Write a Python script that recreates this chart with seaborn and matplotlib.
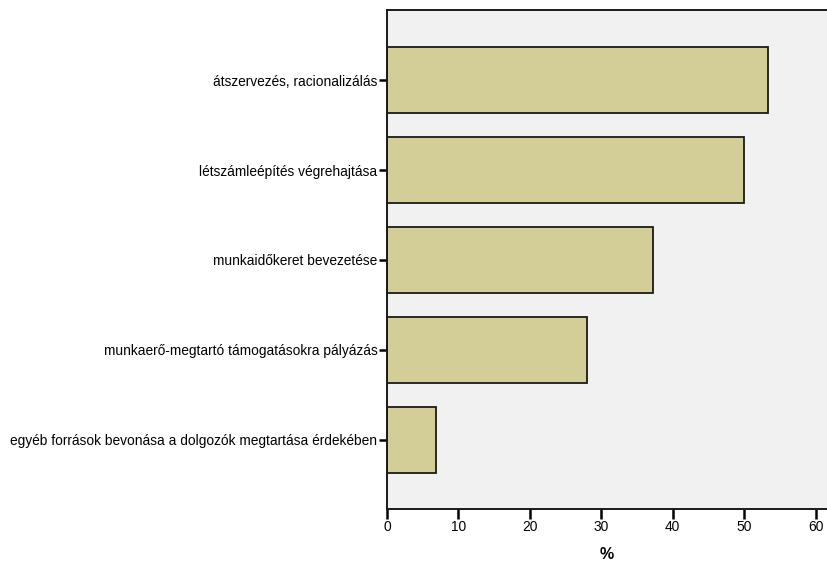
import numpy as np
import pandas as pd
import seaborn as sns
import matplotlib.pyplot as plt

# answer categories, top to bottom
categories = [
    "átszervezés, racionalizálás",
    "létszámleépítés végrehajtása",
    "munkaidőkeret bevezetése",
    "munkaerő-megtartó támogatásokra pályázás",
    "egyéb források bevonása a dolgozók megtartása érdekében",
]
percent = [53.4, 50.0, 37.3, 28.0, 6.8]
x_ticks = [0, 10, 20, 30, 40, 50, 60]

df = pd.DataFrame({"category": categories, "percent": percent})

sns.set_style("white")
plt.rcParams["font.family"] = ["Liberation Sans", "DejaVu Sans"]
plt.rcParams["text.color"] = "black"
plt.rcParams["axes.labelcolor"] = "black"

fig = plt.figure(figsize=(8.27, 5.62), dpi=100)
ax = fig.add_axes([387 / 827, 1 - 509 / 562, 440 / 827, 499 / 562])
ax.set_facecolor("#f0f1f0")

sns.barplot(data=df, x="percent", y="category", orient="h", color="#d3ce97",
            saturation=1, width=0.73, edgecolor="#1a1a1a", linewidth=1.3, ax=ax)

ax.set_xlim(0, 61.6)
ax.set_ylim(4.77, -0.78)
ax.set_xticks(x_ticks)
ax.set_xticklabels([str(t) for t in x_ticks])
ax.tick_params(axis="y", left=True, labelsize=9.9, length=6, width=1.8,
               direction="out", pad=1, colors="black")
ax.tick_params(axis="x", bottom=True, labelsize=9.9, length=7, width=1.8,
               direction="out", pad=1, colors="black")
ax.set_ylabel("")
ax.set_xlabel("%", fontsize=11.5, fontweight="bold", labelpad=9)

for side in ["left", "bottom", "top"]:
    ax.spines[side].set_color("#1a1a1a")
    ax.spines[side].set_linewidth(1.4)
ax.spines["right"].set_visible(False)

fig.savefig("out.png", dpi=100)
